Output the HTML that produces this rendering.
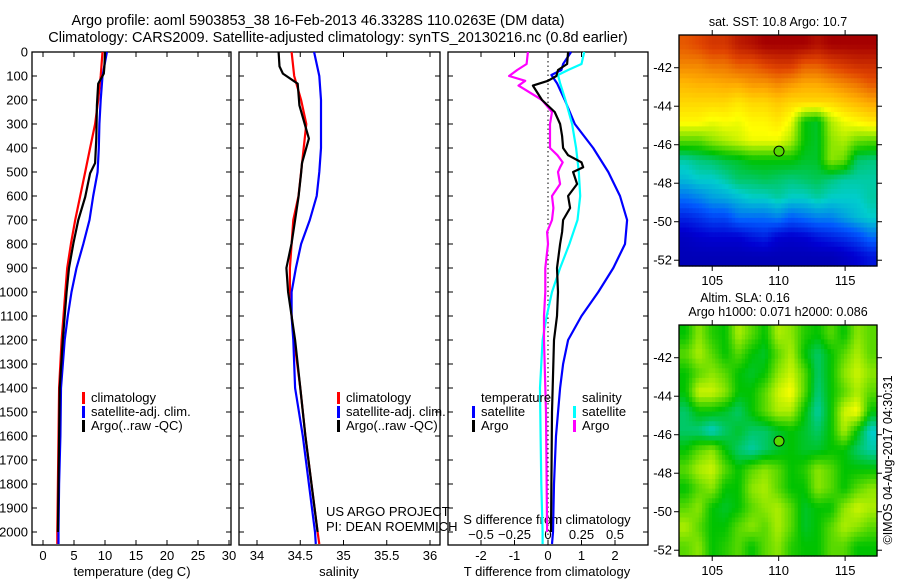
<!DOCTYPE html>
<html><head><meta charset="utf-8">
<style>
body{margin:0;background:#fff;}
svg{display:block;font-family:"Liberation Sans",sans-serif;}
</style></head>
<body>
<svg id="fig" width="900" height="580" viewBox="0 0 900 580" xmlns="http://www.w3.org/2000/svg">
<rect width="900" height="580" fill="#fff"/>
<text x="318" y="25" font-size="14.5" text-anchor="middle">Argo profile: aoml 5903853_38 16-Feb-2013 46.3328S 110.0263E (DM data)</text>
<text x="338" y="42" font-size="14.5" text-anchor="middle">Climatology: CARS2009. Satellite-adjusted climatology: synTS_20130216.nc (0.8d earlier)</text>
<g id="plots"></g>
</svg>
<script>
// ---- data ----
const depthTicks = [0,100,200,300,400,500,600,700,800,900,1000,1100,1200,1300,1400,1500,1600,1700,1800,1900,2000];
const tDepth = [0,100,200,300,400,500,600,700,800,900,1000,1100,1200,1400,1600,1800,2000,2050];
const tClim  = [9.6,9.3,8.9,8.4,7.6,6.8,6.0,5.2,4.5,3.9,3.6,3.3,3.0,2.6,2.5,2.4,2.3,2.3];
const tSat   = [10.3,9.6,9.3,9.1,9.0,8.8,8.1,7.5,6.5,5.4,4.6,4.0,3.5,2.9,2.8,2.6,2.5,2.5];
const aDepth = [0,60,90,132,222,361,463,505,604,700,797,900,1000,1100,1200,1400,1600,1800,2000];
const tArgo  = [10.0,9.9,9.8,8.9,8.7,8.6,8.4,7.6,6.8,5.7,4.9,4.2,3.8,3.5,3.2,2.7,2.6,2.5,2.4];
const sClim  = [34.40,34.43,34.51,34.57,34.54,34.51,34.48,34.42,34.40,34.38,34.38,34.40,34.43,34.50,34.56,34.63,34.70,34.72];
const sSat   = [34.66,34.72,34.74,34.74,34.74,34.72,34.69,34.61,34.51,34.45,34.40,34.40,34.42,34.44,34.53,34.60,34.67,34.68];
const sArgo  = [34.25,34.26,34.30,34.47,34.49,34.60,34.52,34.51,34.48,34.44,34.40,34.34,34.36,34.40,34.44,34.50,34.56,34.63,34.70];
const dDepth = [0,50,75,96,130,200,300,400,500,600,700,800,900,1000,1100,1200,1300,1400,1600,1800,2000,2050];
const dTSat  = [0.69,0.45,0.4,0.1,0.27,0.5,0.8,1.35,1.8,2.15,2.36,2.3,1.95,1.5,1.0,0.6,0.45,0.36,0.24,0.18,0.15,0.12];
const dSSat  = [0.27,0.25,0.15,0.075,0.09,0.13,0.18,0.21,0.23,0.24,0.22,0.16,0.09,0.03,-0.01,-0.04,-0.05,-0.06,-0.055,-0.05,-0.04,-0.04];
const argoDDepth = [0,50,75,100,120,140,200,250,300,350,400,430,460,480,500,550,600,650,700,750,800,900,1000,1100,1200,1500,2000];
const dTArgo = [0.6,0.57,0.3,0.25,0.0,-0.45,-0.18,0.2,0.36,0.42,0.45,0.6,1.0,1.05,0.75,0.87,0.6,0.66,0.45,0.42,0.36,0.27,0.3,0.27,0.18,0.12,0.09];
const dSArgo = [-0.15,-0.16,-0.23,-0.29,-0.17,-0.22,-0.045,0.03,0.015,0.015,0.015,0.07,0.11,0.09,0.075,0.09,0.03,0.04,0.03,-0.007,0.0,-0.02,-0.02,-0.03,-0.03,-0.015,-0.007];
const tTicks = [0,5,10,15,20,25,30];
const sTicks = [34,34.5,35,35.5,36];
const dTTicks = [-2,-1,0,1,2];
const dSTicks = [-0.5,-0.25,0,0.25,0.5];
const latTicks = [-42,-44,-46,-48,-50,-52];
const lonTicks = [105,110,115];
const argoLon = 110.0263, argoLat = -46.3328;
const sstGrid = [
[0.85,0.87,0.9,0.9,0.95,0.97,1,1,1,1,0.97,1,1,1,1],
[0.8,0.8,0.82,0.82,0.85,0.85,0.88,0.9,0.9,0.85,0.85,0.88,0.9,0.92,0.92],
[0.74,0.75,0.75,0.76,0.76,0.78,0.78,0.8,0.78,0.76,0.76,0.78,0.8,0.82,0.85],
[0.7,0.7,0.7,0.7,0.68,0.7,0.7,0.72,0.7,0.7,0.7,0.7,0.72,0.74,0.76],
[0.66,0.66,0.64,0.65,0.64,0.66,0.66,0.68,0.64,0.5,0.48,0.6,0.64,0.66,0.68],
[0.55,0.55,0.58,0.6,0.62,0.64,0.64,0.64,0.6,0.5,0.48,0.58,0.6,0.56,0.55],
[0.42,0.44,0.45,0.47,0.48,0.5,0.5,0.5,0.5,0.48,0.48,0.58,0.56,0.45,0.44],
[0.38,0.4,0.4,0.42,0.45,0.45,0.46,0.45,0.44,0.45,0.46,0.44,0.42,0.42,0.42],
[0.3,0.32,0.35,0.36,0.38,0.4,0.4,0.42,0.4,0.4,0.42,0.4,0.4,0.4,0.42],
[0.2,0.22,0.25,0.25,0.3,0.3,0.3,0.32,0.28,0.3,0.32,0.32,0.35,0.38,0.4],
[0.12,0.14,0.15,0.15,0.15,0.18,0.2,0.15,0.14,0.15,0.18,0.2,0.22,0.25,0.3],
[0.1,0.1,0.1,0.1,0.1,0.1,0.1,0.1,0.1,0.1,0.1,0.1,0.12,0.15,0.18]];
const slaGrid = [
[.5,.58,.52,.5,.6,.55,.5,.6,.58,.52,.5,.55,.5,.58,.55],
[.55,.6,.55,.5,.55,.5,.48,.55,.6,.5,.45,.5,.55,.6,.55],
[.5,.55,.58,.55,.5,.48,.5,.58,.62,.55,.45,.5,.58,.62,.58],
[.5,.62,.62,.58,.5,.5,.55,.62,.65,.55,.44,.5,.55,.6,.55],
[.45,.5,.5,.48,.45,.5,.55,.6,.6,.5,.42,.5,.62,.65,.5],
[.45,.44,.4,.45,.48,.45,.45,.48,.5,.48,.45,.5,.6,.5,.4],
[.5,.55,.58,.5,.45,.42,.45,.48,.5,.48,.48,.5,.5,.45,.42],
[.55,.6,.62,.55,.5,.55,.58,.55,.5,.52,.58,.55,.5,.5,.5],
[.5,.55,.58,.5,.5,.58,.6,.55,.5,.5,.58,.55,.5,.55,.58],
[.55,.58,.5,.48,.5,.55,.58,.6,.55,.48,.5,.5,.58,.62,.6],
[.6,.55,.5,.5,.55,.58,.55,.6,.55,.48,.5,.55,.6,.58,.55],
[.55,.58,.5,.52,.55,.5,.55,.58,.52,.5,.5,.55,.55,.5,.5]];

// ---- helpers ----
const NS="http://www.w3.org/2000/svg";
const root=document.getElementById('plots');
function mk(tag,attrs,parent){const e=document.createElementNS(NS,tag);for(const k in attrs)e.setAttribute(k,attrs[k]);(parent||root).appendChild(e);return e;}
function txt(s,x,y,size,anchor,parent){const e=mk('text',{x:x,y:y,'font-size':size,'text-anchor':anchor||'middle'},parent);e.textContent=s;return e;}
const yD=d=>52+d*0.24;
const PT={x0:32,x1:231}, PS={x0:239,x1:440}, PD={x0:448,x1:648};
const xT=v=>43+v*6.2;
const xS=v=>257+(v-34)*86.5;
const xDT=v=>548+v*33.5;
const xDS=v=>548+v*134;
const TOP=52, BOT=545;
const FS=13;

function panel(p,name){
  const r=mk('rect',{x:p.x0,y:TOP,width:p.x1-p.x0,height:BOT-TOP,fill:'none',stroke:'#000','stroke-width':1.3});
  
  
}
function line(xs,ds,xf,color,name,w){
  const pts=xs.map((v,i)=>xf(v).toFixed(1)+','+yD(ds[i]).toFixed(1)).join(' ');
  const e=mk('polyline',{points:pts,fill:'none',stroke:color,'stroke-width':w||2.2,'stroke-linejoin':'round'});
  
  
}
function xticks(p,ticks,xf,labelY){
  ticks.forEach(t=>{const x=xf(t);
    mk('line',{x1:x,y1:TOP,x2:x,y2:TOP+5,stroke:'#000'});
    mk('line',{x1:x,y1:BOT,x2:x,y2:BOT-5,stroke:'#000'});
    const e=txt(String(t),x,labelY,FS);
    
    
  });
}

panel(PT,'temperature-panel'); panel(PS,'salinity-panel'); panel(PD,'difference-panel');
depthTicks.forEach(d=>{const y=yD(d);
  mk('line',{x1:PT.x0,y1:y,x2:PT.x0+5,y2:y,stroke:'#000'});
  [PT,PS,PD].forEach(p=>mk('line',{x1:p.x1,y1:y,x2:p.x1-5,y2:y,stroke:'#000'}));
  mk('line',{x1:PS.x0,y1:y,x2:PS.x0+5,y2:y,stroke:'#000'});
  mk('line',{x1:PD.x0,y1:y,x2:PD.x0+5,y2:y,stroke:'#000'});
  const e=txt(String(d),28,y+4.5,FS,'end');
  
  
});
xticks(PT,tTicks,xT,560);
xticks(PS,sTicks,xS,560);
xticks(PD,dTTicks,xDT,560);
dSTicks.forEach(t=>{const e=txt(String(t).replace('-','\u2212'),xDS(t),539,FS);
  
  });
let e;
e=txt('temperature (deg C)',132,576,FS);  
e=txt('salinity',339,576,FS);  
e=txt('T difference from climatology',547,576,FS);  
e=txt('S difference from climatology',547,524,FS);  
e=txt('US ARGO PROJECT',326,516,FS,'start');  
e=txt('PI: DEAN ROEMMICH',326,531,FS,'start');  

e=mk('line',{x1:xDT(0),y1:TOP,x2:xDT(0),y2:BOT,stroke:'#000','stroke-dasharray':'1.5,3','stroke-width':1});
 

line(tClim,tDepth,xT,'#f00','temperature-climatology-line');
line(tSat,tDepth,xT,'#00f','temperature-satellite-line');
line(tArgo,aDepth,xT,'#000','temperature-argo-line');
line(sClim,tDepth,xS,'#f00','salinity-climatology-line');
line(sSat,tDepth,xS,'#00f','salinity-satellite-line');
line(sArgo,aDepth,xS,'#000','salinity-argo-line');
line(dTSat,dDepth,xDT,'#00f','t-diff-satellite-line');
line(dSSat,dDepth,xDS,'#0ff','s-diff-satellite-line');
line(dSArgo,argoDDepth,xDS,'#f0f','s-diff-argo-line');
line(dTArgo,argoDDepth,xDT,'#000','t-diff-argo-line');

function leg(x,y,color,label,name){
  const r=mk('rect',{x:x,y:y-10,width:3,height:12,fill:color});
   
  const t=txt(label,x+9,y,FS,'start');
   
}
leg(82,402,'#f00','climatology','legend-t-climatology');
leg(82,416,'#00f','satellite-adj. clim.','legend-t-satellite');
leg(82,430,'#000','Argo(..raw -QC)','legend-t-argo');
leg(337,402,'#f00','climatology','legend-s-climatology');
leg(337,416,'#00f','satellite-adj. clim.','legend-s-satellite');
leg(337,430,'#000','Argo(..raw -QC)','legend-s-argo');
e=txt('temperature',481,402,FS,'start');  
e=txt('salinity',582,402,FS,'start');  
leg(472,416,'#00f','satellite','legend-dt-satellite');
leg(472,430,'#000','Argo','legend-dt-argo');
leg(573,416,'#0ff','satellite','legend-ds-satellite');
leg(573,430,'#f0f','Argo','legend-ds-argo');

const stops=[[0,[0,0,130]],[0.15,[0,0,210]],[0.28,[0,90,255]],[0.4,[0,205,205]],[0.5,[0,195,0]],[0.58,[140,230,0]],[0.65,[255,255,0]],[0.75,[255,175,0]],[0.87,[225,70,0]],[1,[165,0,0]]];
function cmap(v){v=Math.max(0,Math.min(1,v));for(let i=1;i<stops.length;i++){if(v<=stops[i][0]){const a=stops[i-1],b=stops[i];const f=(v-a[0])/(b[0]-a[0]);const c=a[1].map((q,k)=>Math.round(q+(b[1][k]-q)*f));return 'rgb('+c.join(',')+')';}}return 'rgb(165,0,0)';}
function sample(grid,fr,fc){
  const R=grid.length,C=grid[0].length;
  let r=fr*R-0.5,c=fc*C-0.5;
  r=Math.max(0,Math.min(R-1,r));c=Math.max(0,Math.min(C-1,c));
  const r0=Math.floor(r),c0=Math.floor(c),r1=Math.min(R-1,r0+1),c1=Math.min(C-1,c0+1);
  const a=r-r0,b=c-c0;
  return grid[r0][c0]*(1-a)*(1-b)+grid[r0][c1]*(1-a)*b+grid[r1][c0]*a*(1-b)+grid[r1][c1]*a*b;
}

function map(y0,grid,name){
  const X0=679,X1=877,Y0=y0,Y1=y0+231;
  const lon0=102.5,lon1=117.4,lat0=-40.3,lat1=-52.3;
  const xL=l=>X0+(l-lon0)/(lon1-lon0)*(X1-X0);
  const yL=l=>Y0+(l-lat0)/(lat1-lat0)*(Y1-Y0);
  const g=mk('g',{});
  
  
  const NR=grid.length*4, NC=grid[0].length*4;
  const cw=(X1-X0)/NC, ch=(Y1-Y0)/NR;
  for(let r=0;r<NR;r++)for(let c=0;c<NC;c++){
    const v=sample(grid,(r+0.5)/NR,(c+0.5)/NC);
    const cell=mk('rect',{x:(X0+c*cw).toFixed(1),y:(Y0+r*ch).toFixed(1),width:(cw+0.6).toFixed(1),height:(ch+0.6).toFixed(1),fill:cmap(v)},g);
    
    
  }
  const b=mk('rect',{x:X0,y:Y0,width:X1-X0,height:Y1-Y0,fill:'none',stroke:'#000','stroke-width':1.3},g);
   
  latTicks.forEach(l=>{const y=yL(l);
    mk('line',{x1:X0,y1:y,x2:X0-5,y2:y,stroke:'#000'},g);
    mk('line',{x1:X1,y1:y,x2:X1+5,y2:y,stroke:'#000'},g);
    const t=txt(String(l),672,y+4.5,FS,'end',g);
     
  });
  lonTicks.forEach(l=>{const x=xL(l);
    mk('line',{x1:x,y1:Y0,x2:x,y2:Y0-5,stroke:'#000'},g);
    mk('line',{x1:x,y1:Y1,x2:x,y2:Y1+5,stroke:'#000'},g);
    const t=txt(String(l),x,Y1+19,FS,'middle',g);
     
  });
  const c=mk('circle',{cx:xL(argoLon),cy:yL(argoLat),r:5,fill:cmap(0.55),stroke:'#000','stroke-width':1},g);
   
}
map(35,sstGrid,'sst-map');
map(325,slaGrid,'sla-map');
e=txt('sat. SST: 10.8 Argo: 10.7',778,26,12.5,'middle');  
e=txt('Altim. SLA: 0.16',745,302,12.5,'middle');  
e=txt('Argo h1000: 0.071 h2000: 0.086',778,316,12.5,'middle');  
e=txt('\u00A9IMOS 04-Aug-2017 04:30:31',0,0,12.5,'middle');
e.setAttribute('transform','translate(892,460) rotate(-90)');
 
</script>
</body></html>
